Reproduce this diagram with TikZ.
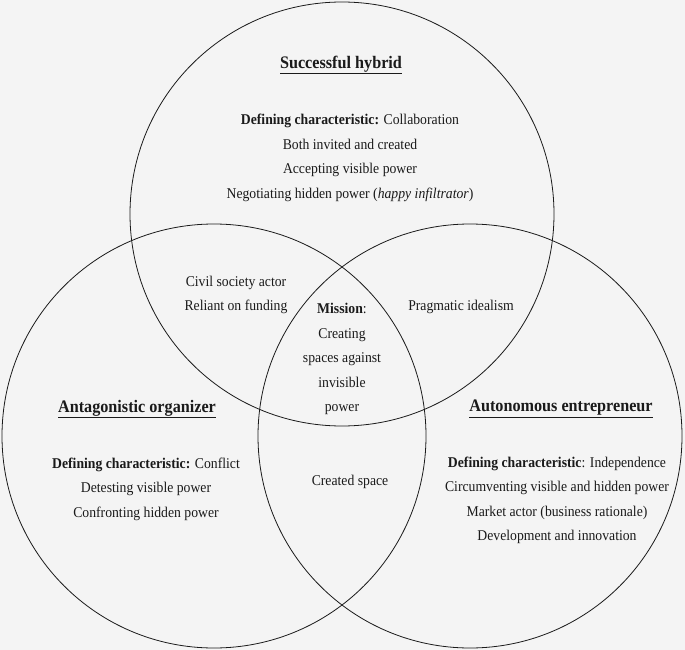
\documentclass[tikz,border=0pt]{standalone}
\usepackage{fontspec}
\setmainfont{Liberation Serif}[FakeStretch=0.92]
\usetikzlibrary{positioning}
\definecolor{paper}{HTML}{F4F4F4}
\definecolor{ink}{HTML}{1A1A1A}
\tikzset{
  ring/.style={draw=ink, line width=0.8pt},
  txt/.style={text=ink, align=center, inner sep=0pt, font=\fontsize{14.9}{24.5}\selectfont},
  head/.style={txt, font=\fontsize{17.6}{24.5}\selectfont\bfseries}
}
\newcommand{\hd}[1]{\underline{#1}}

\begin{document}
\begin{tikzpicture}[x=1pt, y=-1pt]
			\fill[paper] (0,0) rectangle (685,650);
			\useasboundingbox (0,0) rectangle (685,650);
			\draw[ring] (342,214) circle (212);
			\draw[ring] (214,436) circle (212);
			\draw[ring] (470,436) circle (212);
			\node[head] (hybrid) at (341,65) {\hd{Successful hybrid}};
			\node[txt] (hybridtxt) at (350,158) {\textbf{Defining characteristic:} Collaboration\\ Both invited and created\\ Accepting visible power\\ Negotiating hidden power (\textit{happy infiltrator})};
			\node[txt] (civil) at (236,295) {Civil society actor\\ Reliant on funding};
			\node[txt] (pragma) at (461,307) {Pragmatic idealism};
			\node[txt] (mission) at (342,359) {\textbf{Mission}:\\ Creating\\ spaces against\\ invisible\\ power};
			\node[head] (antag) at (137,409) {\hd{Antagonistic organizer}};
			\node[head] (auton) at (561,409) {\hd{Autonomous entrepreneur}};
			\node[txt] (antagtxt) at (146,489) {\textbf{Defining characteristic:} Conflict\\ Detesting visible power\\ Confronting hidden power};
			\node[txt] (created) at (350,482) {Created space};
			\node[txt] (autontxt) at (557,500.5) {\textbf{Defining characteristic}: Independence\\ Circumventing visible and hidden power\\ Market actor (business rationale)\\ Development and innovation};
		\end{tikzpicture}
\end{document}
